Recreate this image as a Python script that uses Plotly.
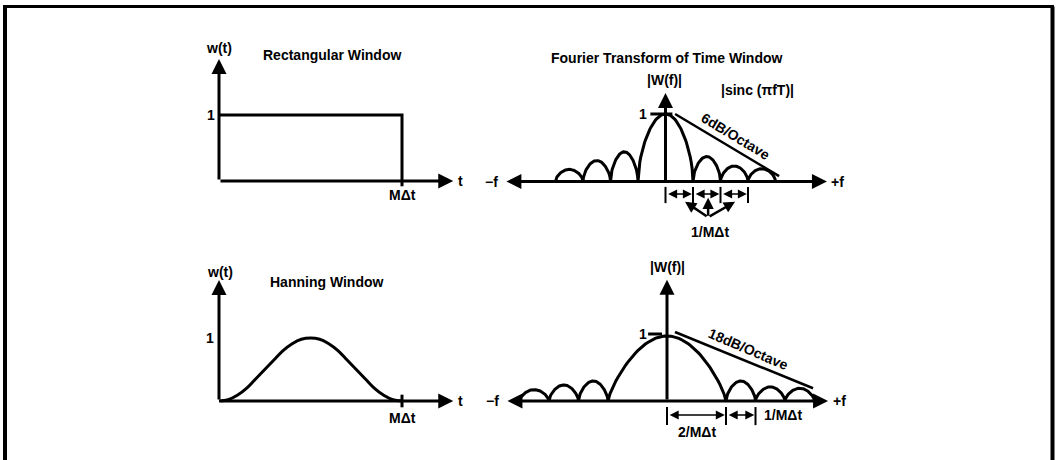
import numpy as np
import plotly.graph_objects as go

W, H = 1057, 460
FONT = "Liberation Sans, Arial, sans-serif"

# ---------------- data ----------------
# Rectangular window w(t), t in units of M*dt
rect_t = [0, 1, 1]
rect_w = [1, 1, 0]

# Hanning window w(t)
hann_t = [0, 0.05, 0.1, 0.15, 0.2, 0.25, 0.3, 0.35, 0.4, 0.45, 0.5,
          0.55, 0.6, 0.65, 0.7, 0.75, 0.8, 0.85, 0.9, 0.95, 1.0]
hann_w = [0, 0.02, 0.09, 0.2, 0.35, 0.5, 0.65, 0.8, 0.91, 0.98, 1.0,
          0.98, 0.91, 0.8, 0.65, 0.5, 0.35, 0.2, 0.09, 0.02, 0]

# |W(f)| lobes: zero crossings (units of 1/M*dt) and lobe peak heights
sinc_zeros = [-4, -3, -2, -1, 1, 2, 3, 4]
sinc_peaks = [0.18, 0.31, 0.44, 1.00, 0.37, 0.23, 0.19]
hannf_zeros = [-5, -4, -3, -2, 2, 3, 4, 5]
hannf_peaks = [0.17, 0.24, 0.30, 0.97, 0.30, 0.21, 0.19]

# roll-off asymptotes
sinc_roll_f = [0.35, 4.13]
sinc_roll_w = [1.0, 0.08]
hannf_roll_f = [0.27, 4.95]
hannf_roll_w = [1.03, 0.19]

# axis extents (arrow tips)
time_x_end = 1.28
rect_y_end = 1.85
hann_y_end = 1.92
sinc_f_ends = [-5.84, 5.87]
sinc_y_end = 1.31
hannf_f_ends = [-5.46, 5.46]
hannf_y_end = 1.81

# interval markers
sinc_marks = [0, 1, 2, 3]
hannf_marks = [0, 2, 3]

# ---------------- layout geometry ----------------
panels = {
    "tl": dict(ox=219, oy=181, sx=183, sy=66, box=(150, 480, 15, 225), ax=""),
    "tr": dict(ox=665.5, oy=181.5, sx=27.5, sy=67.5, box=(480, 870, 15, 250), ax="2"),
    "bl": dict(ox=219, oy=401, sx=183, sy=63, box=(150, 480, 250, 445), ax="3"),
    "br": dict(ox=667, oy=401, sx=29.5, sy=67, box=(480, 870, 250, 452), ax="4"),
}


def refs(p):
    s = panels[p]["ax"]
    return "x" + s, "y" + s


fig = go.Figure()


def add_line(p, x, y, width=3, shape="linear"):
    xr, yr = refs(p)
    fig.add_trace(go.Scatter(x=x, y=y, mode="lines", xaxis=xr, yaxis=yr,
                             line=dict(color="black", width=width, shape=shape),
                             hoverinfo="skip", showlegend=False))


def arches(zeros, peaks, p_exp):
    xs, ys = [], []
    u = np.linspace(0, 1, 61)
    for a, b, h, e in zip(zeros[:-1], zeros[1:], peaks, p_exp):
        xs += list(a + (b - a) * u)
        ys += list(h * np.sin(np.pi * u) ** e)
    return xs, ys


annotations = []


def txt(p, x, y, s, size=14, angle=0, xanchor="center"):
    xr, yr = refs(p)
    annotations.append(dict(xref=xr, yref=yr, x=x, y=y, text="<b>" + s + "</b>",
                            showarrow=False, textangle=angle, xanchor=xanchor,
                            yanchor="middle",
                            font=dict(family=FONT, size=size, color="black")))


def arrow(p, x, y, ax, ay, width=3, size=1.0, both=False, head=2):
    xr, yr = refs(p)
    annotations.append(dict(xref=xr, yref=yr, axref=xr, ayref=yr, x=x, y=y,
                            ax=ax, ay=ay, text="", showarrow=True,
                            arrowhead=head, startarrowhead=head,
                            arrowsize=size, startarrowsize=size,
                            arrowwidth=width, arrowcolor="black",
                            arrowside="end+start" if both else "end",
                            standoff=0, startstandoff=0))


# ---- top-left: rectangular window
arrow("tl", time_x_end, 0, 0, 0)
arrow("tl", 0, rect_y_end, 0, 0)
add_line("tl", rect_t, rect_w)
add_line("tl", [1, 1], [0, -0.08])
txt("tl", 0, 2.02, "w(t)")
txt("tl", 0.616, 1.91, "Rectangular Window")
txt("tl", -0.045, 1.0, "1")
txt("tl", 1.0, -0.21, "MΔt")
txt("tl", 1.32, 0, "t")

# ---- bottom-left: Hanning window
arrow("bl", time_x_end, 0, 0, 0)
arrow("bl", 0, hann_y_end, 0, 0)
add_line("bl", hann_t, hann_w, shape="spline")
add_line("bl", [1, 1], [0.1, -0.1])
txt("bl", 0.005, 2.05, "w(t)")
txt("bl", 0.59, 1.89, "Hanning Window")
txt("bl", -0.05, 1.0, "1")
txt("bl", 1.0, -0.27, "MΔt")
txt("bl", 1.32, 0, "t")

# ---- top-right: |sinc|
arrow("tr", sinc_f_ends[1], 0, sinc_f_ends[0], 0, both=True)
arrow("tr", 0, sinc_y_end, 0, 0)
sx_, sy_ = arches(sinc_zeros, sinc_peaks, [0.55] * len(sinc_peaks))
add_line("tr", sx_, sy_)
add_line("tr", sinc_roll_f, sinc_roll_w, width=2.5)
add_line("tr", [-0.55, 0.25], [1.0, 1.0], width=3)
tx, ty = [], []
for m in sinc_marks:
    tx += [m, m, None]
    ty += [-0.08, -0.32, None]
add_line("tr", tx, ty, width=2)
for a, b in zip(sinc_marks[:-1], sinc_marks[1:]):
    arrow("tr", b - 0.04, -0.185, a + 0.04, -0.185, width=1.5, size=1.2, both=True)
apex = (1.55, -0.53)
for tip in [(0.71, -0.30), (1.55, -0.24), (2.53, -0.30)]:
    arrow("tr", tip[0], tip[1], apex[0], apex[1], width=2.5, size=0.9)
txt("tr", 0.05, 1.83, "Fourier Transform of Time Window")
txt("tr", -0.02, 1.50, "|W(f)|")
txt("tr", 3.33, 1.36, "|sinc (πfT)|")
txt("tr", -0.82, 1.0, "1")
txt("tr", 2.53, 0.67, "6dB/Octave", angle=31)
txt("tr", -6.31, 0, "−f")
txt("tr", 6.27, 0, "+f")
txt("tr", 1.62, -0.75, "1/MΔt")

# ---- bottom-right: Hanning spectrum
arrow("br", hannf_f_ends[1], 0, hannf_f_ends[0], 0, both=True)
arrow("br", 0, hannf_y_end, 0, 0)
hx_, hy_ = arches(hannf_zeros, hannf_peaks, [0.6, 0.6, 0.6, 0.75, 0.6, 0.6, 0.6])
add_line("br", hx_, hy_)
add_line("br", hannf_roll_f, hannf_roll_w, width=2.5)
add_line("br", [-0.64, -0.17], [1.0, 1.0], width=3)
tx, ty = [], []
for m in hannf_marks:
    tx += [m, m, None]
    ty += [-0.09, -0.36, None]
add_line("br", tx, ty, width=2)
for a, b in zip(hannf_marks[:-1], hannf_marks[1:]):
    arrow("br", b - 0.04, -0.21, a + 0.04, -0.21, width=1.5, size=1.2, both=True)
txt("br", 0, 2.0, "|W(f)|")
txt("br", -0.81, 1.0, "1")
txt("br", 2.75, 0.78, "18dB/Octave", angle=23)
txt("br", -5.93, 0, "−f")
txt("br", 5.86, 0, "+f")
txt("br", 1.0, -0.46, "2/MΔt")
txt("br", 3.93, -0.21, "1/MΔt", xanchor="center")

# ---- axes geometry
layout_axes = {}
for key, p in panels.items():
    px0, px1, py0, py1 = p["box"]
    s = p["ax"]
    layout_axes["xaxis" + s] = dict(
        domain=[px0 / W, px1 / W],
        range=[(px0 - p["ox"]) / p["sx"], (px1 - p["ox"]) / p["sx"]],
        visible=False, fixedrange=True, anchor="y" + s)
    layout_axes["yaxis" + s] = dict(
        domain=[1 - py1 / H, 1 - py0 / H],
        range=[(p["oy"] - py1) / p["sy"], (p["oy"] - py0) / p["sy"]],
        visible=False, fixedrange=True, anchor="x" + s)

# frame border
frame = [
    dict(type="line", xref="paper", yref="paper", x0=5 / W, x1=5 / W, y0=0, y1=1 - 6.5 / H,
         line=dict(color="black", width=4)),
    dict(type="line", xref="paper", yref="paper", x0=3 / W, x1=1054 / W, y0=1 - 6.5 / H,
         y1=1 - 6.5 / H, line=dict(color="black", width=3)),
    dict(type="line", xref="paper", yref="paper", x0=1052.5 / W, x1=1052.5 / W, y0=0,
         y1=1 - 6.5 / H, line=dict(color="black", width=4)),
]

fig.update_layout(
    width=W, height=H, margin=dict(l=0, r=0, t=0, b=0),
    paper_bgcolor="white", plot_bgcolor="white",
    showlegend=False, annotations=annotations, shapes=frame,
    **layout_axes,
)

fig.write_html(
    "out.html",
    config={"displayModeBar": False, "staticPlot": True},
    post_script="document.body.style.margin='0px';document.body.style.overflow='hidden';",
)
